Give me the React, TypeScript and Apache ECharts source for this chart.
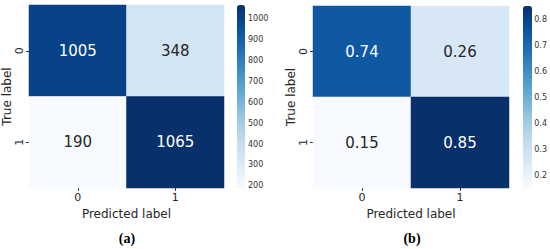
import React, { useEffect, useRef } from "react";
import * as echarts from "echarts";

const predictedLabels = ["0", "1"];
const trueLabels = ["0", "1"];
const countsMatrix = [
  [1005, 348],
  [190, 1065],
];
const normMatrix = [
  [0.74, 0.26],
  [0.15, 0.85],
];
const countTicks = [200, 300, 400, 500, 600, 700, 800, 900, 1000];
const normTicks = [0.2, 0.3, 0.4, 0.5, 0.6, 0.7, 0.8];
const countRange = [190, 1065];
const normRange = [0.15, 0.85];

const BLUES = ["#f7fbff", "#deebf7", "#c6dbef", "#9ecae1", "#6baed6", "#4292c6", "#2171b5", "#08519c", "#08306b"];
const FONT = "DejaVu Sans";

function buildData(m: number[][], range: number[]) {
  const out: any[] = [];
  const mid = (range[0] + range[1]) / 2;
  m.forEach((row, r) =>
    row.forEach((v, c) => {
      out.push({
        value: [c, r, v],
        label: { color: v > mid ? "#ffffff" : "#262626" },
      });
    })
  );
  return out;
}

export default function App() {
  const ref = useRef<HTMLDivElement>(null);
  useEffect(() => {
    if (!ref.current) return;
    const chart = echarts.init(ref.current, undefined, { renderer: "svg" });
    const panels = [
      { left: 29, top: 5, width: 195, height: 183, cbLeft: 237, cbW: 8, range: countRange, ticks: countTicks, m: countsMatrix, fmt: (v: number) => String(v) },
      { left: 313, top: 6, width: 196, height: 182, cbLeft: 523, cbW: 9, range: normRange, ticks: normTicks, m: normMatrix, fmt: (v: number) => v.toFixed(2) },
    ];
    const grid: any[] = [];
    const xAxis: any[] = [];
    const yAxis: any[] = [];
    const series: any[] = [];
    const visualMap: any[] = [];
    panels.forEach((p, i) => {
      grid.push({ left: p.left, top: p.top, width: p.width, height: p.height });
      grid.push({ left: p.cbLeft, top: p.top, width: p.cbW, height: p.height });
      xAxis.push({
        type: "category",
        gridIndex: i * 2,
        data: predictedLabels,
        axisLine: { show: false },
        axisTick: { show: true, alignWithLabel: true, length: 3, lineStyle: { color: "#333" } },
        axisLabel: { fontFamily: FONT, fontSize: 11, color: "#262626", margin: 4 },
        splitLine: { show: false },
        name: "Predicted label",
        nameLocation: "middle",
        nameGap: 18,
        nameTextStyle: { fontFamily: FONT, fontSize: 12, color: "#262626" },
      });
      yAxis.push({
        type: "category",
        gridIndex: i * 2,
        data: trueLabels,
        inverse: true,
        axisLine: { show: false },
        axisTick: { show: true, alignWithLabel: true, length: 3, lineStyle: { color: "#333" } },
        axisLabel: { fontFamily: FONT, fontSize: 11, color: "#262626", rotate: 90, margin: 4 },
        splitLine: { show: false },
        name: "True label",
        nameLocation: "middle",
        nameRotate: 90,
        nameGap: 15,
        nameTextStyle: { fontFamily: FONT, fontSize: 12, color: "#262626" },
      });
      xAxis.push({ type: "value", gridIndex: i * 2 + 1, show: false, min: 0, max: 1 });
      yAxis.push({
        type: "value",
        gridIndex: i * 2 + 1,
        position: "right",
        min: p.range[0],
        max: p.range[1],
        axisLine: { show: false },
        splitLine: { show: false },
        axisTick: { show: true, length: 3, customValues: p.ticks, lineStyle: { color: "#333" } },
        axisLabel: {
          fontFamily: FONT,
          fontSize: 8,
          color: "#333",
          margin: 3,
          customValues: p.ticks,
          formatter: (v: number) => (i === 0 ? String(v) : String(Math.round(v * 10) / 10)),
        },
      });
      series.push({
        type: "heatmap",
        xAxisIndex: i * 2,
        yAxisIndex: i * 2,
        data: buildData(p.m, p.range),
        label: {
          show: true,
          fontFamily: FONT,
          fontSize: 15,
          formatter: (d: any) => p.fmt(d.value[2]),
        },
        itemStyle: { borderWidth: 0 },
        emphasis: { disabled: true },
      });
      visualMap.push({
        type: "continuous",
        seriesIndex: i,
        min: p.range[0],
        max: p.range[1],
        left: p.cbLeft,
        top: p.top,
        itemWidth: p.cbW,
        itemHeight: p.height,
        padding: 0,
        calculable: false,
        hoverLink: false,
        showLabel: false,
        text: ["", ""],
        inRange: { color: BLUES },
      });
    });
    chart.setOption({
      animation: false,
      backgroundColor: "#ffffff",
      grid,
      xAxis,
      yAxis,
      series,
      visualMap,
      graphic: [
        { type: "text", x: 127, y: 238, style: { text: "(a)", align: "center", verticalAlign: "middle", fontFamily: "Liberation Serif", fontWeight: "bold", fontSize: 14, fill: "#000" } },
        { type: "text", x: 412, y: 238, style: { text: "(b)", align: "center", verticalAlign: "middle", fontFamily: "Liberation Serif", fontWeight: "bold", fontSize: 14, fill: "#000" } },
      ],
    });
    return () => chart.dispose();
  }, []);
  return <div ref={ref} style={{ width: 550, height: 249, position: "absolute", left: 0, top: 0 }} />;
}
